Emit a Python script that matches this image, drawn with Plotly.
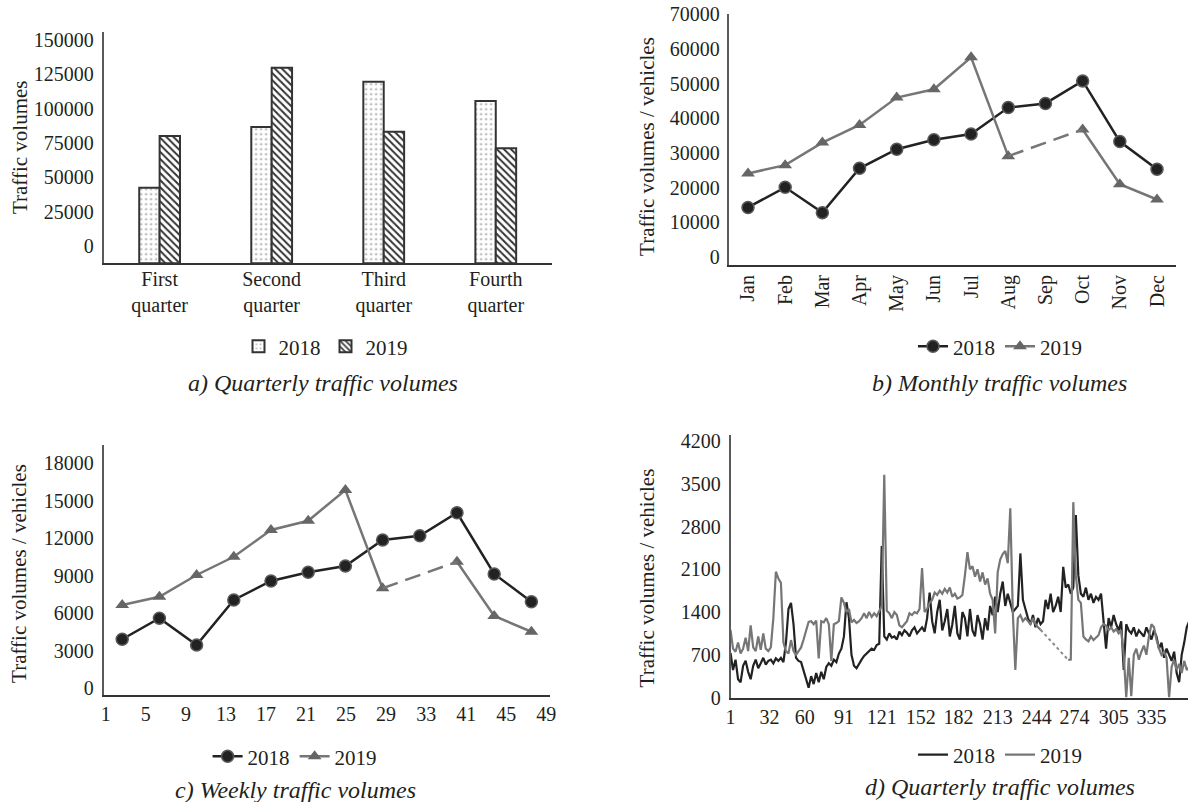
import plotly.graph_objects as go
import numpy as np

FONT = "Liberation Serif"
TXT = "#231f20"
W, H = 1188, 802

# ---------------- data ----------------
# a) quarterly totals
QUARTERS = ["First<br>quarter", "Second<br>quarter", "Third<br>quarter", "Fourth<br>quarter"]
Q_2018 = [54900, 99000, 131900, 117900]
Q_2019 = [92400, 142100, 95600, 83500]
Q_TICKS = [0, 25000, 50000, 75000, 100000, 125000, 150000]

# b) monthly totals
MONTHS = ["Jan", "Feb", "Mar", "Apr", "May", "Jun", "Jul", "Aug", "Sep", "Oct", "Nov", "Dec"]
M_2018 = [16600, 22400, 15100, 27900, 33400, 36100, 37800, 45400, 46600, 53100, 35600, 27600]
M_2019 = [26400, 28800, 35300, 40400, 48300, 50700, 59900, 31400, None, 39100, 23300, 18900]
M_TICKS = [0, 10000, 20000, 30000, 40000, 50000, 60000, 70000]

# c) weekly totals
WEEK_LABELS = ["1", "5", "9", "13", "17", "21", "25", "29", "33", "41", "45", "49"]
W_2018 = [4460, 6140, 4000, 7600, 9120, 9820, 10320, 12400, 12740, 14580, 9680, 7460]
W_2019 = [7200, 7860, 9600, 11060, 13200, 13940, 16400, 8540, None, 10660, 6320, 5060]
W_TICKS = [0, 3000, 6000, 9000, 12000, 15000, 18000]

# d) daily volumes (every second day)
DAYS = list(range(1, 366, 2))
D_2018 = [
    730, 450, 620, 300, 250, 520, 600, 420, 300, 520, 620, 480, 560, 650, 540, 600, 620,
    560, 640, 600, 650, 580, 900, 1450, 1550, 1200, 650, 600, 580, 450, 300, 160, 350,
    220, 400, 250, 420, 300, 500, 560, 520, 620, 580, 720, 800, 1000, 1560, 1300, 700,
    520, 480, 560, 620, 680, 720, 760, 800, 780, 860, 880, 2480, 1000, 950, 1050, 980,
    1000, 950, 1080, 1020, 1100, 1060, 1000, 1100, 1150, 1050, 1100, 1150, 1080, 1300,
    1720, 1250, 1050, 1400, 1600, 1100, 1250, 1450, 1000, 1200, 1500, 1050, 950, 1400,
    1300, 1000, 1450, 1100, 1000, 1350, 1200, 950, 1300, 1100, 1500, 1350, 1650, 1400,
    1700, 1900, 1500, 1700, 1550, 1400, 1450, 1500, 2360, 1600, 1450, 1300, 1200, 1350,
    1150, 1300, 1200, 1250, 1600, 1450, 1700, 1400, 1500, 1650, 1400, 2140, 1800, 1850,
    1700, 1800, 2990, 2000, 1700, 1650, 1800, 1600, 1700, 1550, 1650, 1600, 1700, 1250,
    800, 1300, 1150, 1350, 1200, 1100, 1250, 450, 1200, 1100, 1050, 1150, 1000, 1100,
    1050, 1000, 1150, 1050, 950, 1100, 1000, 800, 900, 650, 800, 700, 600, 750, 400,
    250, 700, 900, 1150, 1250,
]
D_2019 = [
    1107, 800, 750, 900, 720, 800, 980, 760, 1180, 820, 760, 1000, 780, 1050, 800, 760,
    820, 1300, 2060, 1950, 1880, 900, 760, 720, 940, 760, 700, 760, 820, 950, 1100, 1240,
    1250, 1200, 1260, 640, 1250, 1230, 1300, 1200, 600, 1200, 1220, 1250, 1640, 1550,
    1400, 1450, 1230, 1270, 1220, 1250, 1300, 1380, 1300, 1400, 1320, 1380, 1330, 1420,
    1500, 3650, 1420, 1380, 1300, 1400, 1350, 1180, 1150, 1200, 1250, 1380, 1350, 1400,
    1380, 1450, 2120, 1400, 1450, 1550, 1600, 1720, 1680, 1750, 1700, 1780, 1720, 1800,
    1650, 1700, 1620, 1640, 1680, 2000, 2380, 2100, 2150, 1980, 2100, 1900, 2050, 1850,
    1950, 1700, 1600, 1050, 2050, 2260, 2350, 2400, 2200, 3100, 1400, 450, 1300, 1350,
    1250, 1300, 1250, 1200, 1300, 1200, 1150, 1110,
    None, None, None, None, None, None, None, None, None, None,
    615, 620, 3200, 2000, 1600, 1550, 1000, 950, 920, 1000, 940, 980, 1020, 1150, 1200,
    1180, 1100, 1150, 1080, 1120, 1050, 1100, 700, 0, 650, 20, 700, 800, 620, 750, 850,
    700, 1000, 1200, 1150, 950, 800, 700, 750, 650, 0, 500, 620, 450, 550, 400, 600, 450,
    500,
]
D_TICKS = [1, 32, 60, 91, 121, 152, 182, 213, 244, 274, 305, 335]
D_YTICKS = [0, 700, 1400, 2100, 2800, 3500, 4200]

assert len(D_2018) == len(DAYS) and len(D_2019) == len(DAYS)

# ---------------- helpers ----------------
def px_x(x):
    return x / W


def px_y(y):
    return 1 - y / H


def bridges(xs, ys):
    """Segments joining the points on both sides of each gap."""
    segs = []
    i = 0
    while i < len(ys):
        if ys[i] is None and i > 0 and ys[i - 1] is not None:
            j = i
            while j < len(ys) and ys[j] is None:
                j += 1
            if j < len(ys):
                segs.append(([xs[i - 1], xs[j]], [ys[i - 1], ys[j]]))
            i = j
        else:
            i += 1
    return segs


C18 = "#222222"
C19 = "#767676"

fig = go.Figure()

# ---------------- a) bars ----------------
fig.add_trace(go.Bar(
    x=QUARTERS, y=Q_2018, name="2018", xaxis="x", yaxis="y", legend="legend",
    marker=dict(color="white", line=dict(color="#333333", width=2),
                pattern=dict(shape=".", fgcolor="#9a9a9a", bgcolor="white", size=5, solidity=0.15)),
))
fig.add_trace(go.Bar(
    x=QUARTERS, y=Q_2019, name="2019", xaxis="x", yaxis="y", legend="legend",
    marker=dict(color="white", line=dict(color="#333333", width=2),
                pattern=dict(shape="\\", fgcolor="#333333", bgcolor="white", size=5, solidity=0.4)),
))

# ---------------- b) monthly ----------------
fig.add_trace(go.Scatter(
    x=MONTHS, y=M_2018, name="2018", mode="lines+markers", xaxis="x2", yaxis="y2", legend="legend2",
    line=dict(color=C18, width=2.5),
    marker=dict(symbol="circle", size=12, color=C18, line=dict(color="#5a5a5a", width=1.5)),
))
fig.add_trace(go.Scatter(
    x=MONTHS, y=M_2019, name="2019", mode="lines+markers", xaxis="x2", yaxis="y2", legend="legend2",
    connectgaps=False, line=dict(color=C19, width=2.5),
    marker=dict(symbol="triangle-up", size=12, color="#666666"),
))
for xs_, ys_ in bridges(MONTHS, M_2019):
    fig.add_trace(go.Scatter(x=xs_, y=ys_, mode="lines", xaxis="x2", yaxis="y2",
                             line=dict(color=C19, width=2.5, dash="16px,8px"),
                             showlegend=False, hoverinfo="skip"))

# ---------------- c) weekly ----------------
W_POS = list(range(len(WEEK_LABELS)))
W_TICK_POS = list(np.linspace(-0.44, 11.4, len(WEEK_LABELS)))
fig.add_trace(go.Scatter(
    x=W_POS, y=W_2018, name="2018", mode="lines+markers", xaxis="x3", yaxis="y3", legend="legend3",
    line=dict(color=C18, width=2.5),
    marker=dict(symbol="circle", size=12, color=C18, line=dict(color="#5a5a5a", width=1.5)),
))
fig.add_trace(go.Scatter(
    x=W_POS, y=W_2019, name="2019", mode="lines+markers", xaxis="x3", yaxis="y3", legend="legend3",
    connectgaps=False, line=dict(color=C19, width=2.5),
    marker=dict(symbol="triangle-up", size=12, color="#666666"),
))
for xs_, ys_ in bridges(W_POS, W_2019):
    fig.add_trace(go.Scatter(x=xs_, y=ys_, mode="lines", xaxis="x3", yaxis="y3",
                             line=dict(color=C19, width=2.5, dash="16px,8px"),
                             showlegend=False, hoverinfo="skip"))

# ---------------- d) daily ----------------
fig.add_trace(go.Scatter(
    x=DAYS, y=D_2018, name="2018", mode="lines", xaxis="x4", yaxis="y4", legend="legend4",
    line=dict(color=C18, width=2.2),
))
fig.add_trace(go.Scatter(
    x=DAYS, y=D_2019, name="2019", mode="lines", xaxis="x4", yaxis="y4", legend="legend4",
    connectgaps=False, line=dict(color=C19, width=2.2),
))
for xs_, ys_ in bridges(DAYS, D_2019):
    fig.add_trace(go.Scatter(x=xs_, y=ys_, mode="lines", xaxis="x4", yaxis="y4",
                             line=dict(color="#8a8a8a", width=2, dash="dot"),
                             showlegend=False, hoverinfo="skip"))

# ---------------- layout ----------------
tickfont = dict(family=FONT, size=20, color=TXT)


def xax(dom, anchor, **kw):
    d = dict(domain=dom, anchor=anchor, showgrid=False, zeroline=False, showline=True,
             linecolor="#333333", linewidth=2, ticks="", tickfont=tickfont, automargin=False)
    d.update(kw)
    return d


def yax(dom, anchor, **kw):
    d = dict(domain=dom, anchor=anchor, showgrid=False, zeroline=False, showline=True,
             linecolor="#5a5a5a", linewidth=1.5, ticks="", tickfont=tickfont, tickformat="d",
             automargin=False)
    d.update(kw)
    return d


def leg(xc, yc):
    return dict(x=px_x(xc), y=px_y(yc), xanchor="center", yanchor="middle", orientation="h",
                font=dict(family=FONT, size=21, color=TXT), bgcolor="rgba(0,0,0,0)",
                traceorder="normal")


fig.update_layout(
    template="none",
    width=W, height=H, autosize=False, margin=dict(l=0, r=0, t=0, b=0, pad=0, autoexpand=False),
    paper_bgcolor="white", plot_bgcolor="white",
    font=dict(family=FONT, size=20, color=TXT),
    barmode="group", bargap=0.636, bargroupgap=0,
    xaxis=xax([px_x(103.6), px_x(551.8)], "y", type="category", range=[-0.5, 3.5],
              ticklabelstandoff=-3),
    yaxis=yax([px_y(263.3), px_y(31.7)], "x", range=[0, 168200], tickvals=Q_TICKS,
              ticklabelshift=-17, ticklabelstandoff=4),
    xaxis2=xax([px_x(729.4), px_x(1175.6)], "y2", type="category", categoryorder="array",
               categoryarray=MONTHS, range=[-0.5, 11.5], tickangle=-90),
    yaxis2=yax([px_y(265), px_y(14)], "x2", range=[0, 72400], tickvals=M_TICKS,
               ticklabelshift=-8, ticklabelstandoff=4),
    xaxis3=xax([px_x(103.6), px_x(550)], "y3", range=[-0.5, 11.5], tickvals=W_TICK_POS,
               ticktext=WEEK_LABELS),
    yaxis3=yax([px_y(695), px_y(445)], "x3", range=[0, 20000], tickvals=W_TICKS,
               ticklabelshift=-7, ticklabelstandoff=4),
    xaxis4=xax([px_x(730.5), 1.0], "y4", range=[1, 364], tickvals=D_TICKS),
    yaxis4=yax([px_y(697.5), px_y(435)], "x4", range=[0, 4300], tickvals=D_YTICKS,
               ticklabelstandoff=4),
    legend=leg(325.5, 346.7),
    legend2=leg(1000, 346.7),
    legend3=leg(294.6, 756.7),
    legend4=leg(1000, 755),
    showlegend=True,
)

annots = [
    # axis titles
    dict(x=px_x(19.6), y=px_y(147.5), text="Traffic volumes", textangle=-90, size=21),
    dict(x=px_x(646.9), y=px_y(146), text="Traffic volumes / vehicles", textangle=-90, size=21),
    dict(x=px_x(19.6), y=px_y(573.3), text="Traffic volumes / vehicles", textangle=-90, size=21),
    dict(x=px_x(646.9), y=px_y(577.5), text="Traffic volumes / vehicles", textangle=-90, size=21),
    # captions
    dict(x=px_x(322.5), y=px_y(383), text="<i>a) Quarterly traffic volumes</i>", size=24),
    dict(x=px_x(999.3), y=px_y(383.3), text="<i>b) Monthly traffic volumes</i>", size=24),
    dict(x=px_x(295.5), y=px_y(790), text="<i>c) Weekly traffic volumes</i>", size=24),
    dict(x=px_x(1000), y=px_y(786.7), text="<i>d) Quarterly traffic volumes</i>", size=24),
]
for a in annots:
    sz = a.pop("size")
    a.update(xref="paper", yref="paper", showarrow=False, xanchor="center", yanchor="middle",
             font=dict(family=FONT, size=sz, color=TXT))
fig.update_layout(annotations=annots)

fig.write_html("out.html", config={"displayModeBar": False},
               post_script="document.body.style.margin='0';document.body.style.overflow='hidden';")
